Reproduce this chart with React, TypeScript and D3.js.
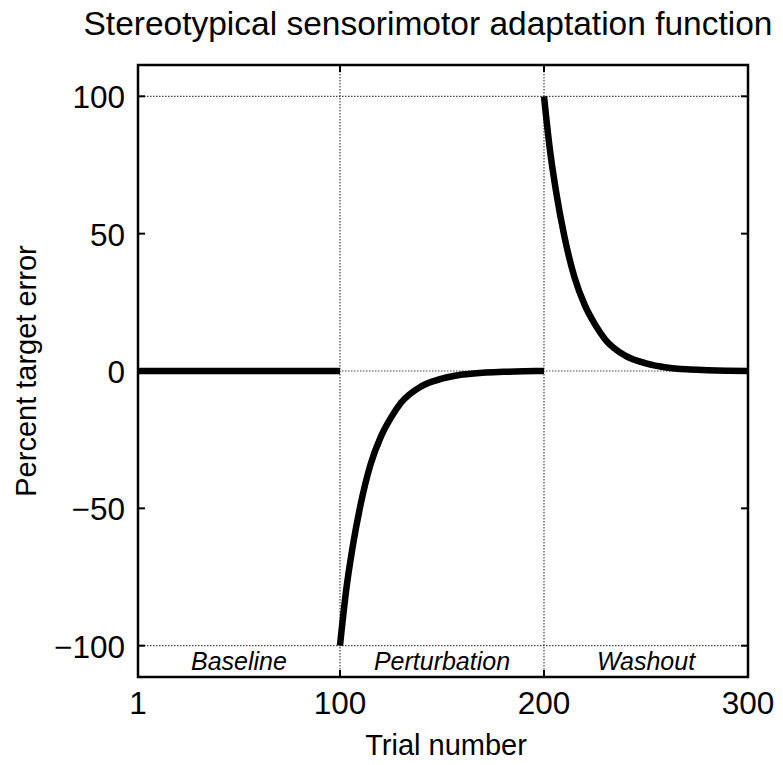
import React from "react";
import * as d3 from "d3";

const title = "Stereotypical sensorimotor adaptation function";
const xLabel = "Trial number";
const yLabel = "Percent target error";

const xTicks = [1, 100, 200, 300];
const yTicks = [100, 50, 0, -50, -100];
const gridX = [100, 200];
const gridY = [100, 0, -100];

const phaseNames = ["Baseline", "Perturbation", "Washout"];
const phaseStarts = [1, 100, 200];
const phaseEnds = [100, 200, 300];

const baselineTrials = [1, 100];
const baselineError = [0, 0];

const perturbationTrials = [100, 103, 106, 110, 115, 120, 125, 130, 140, 150, 160, 170, 180, 190, 200];
const perturbationError = [-100, -80, -65, -49, -34, -24, -17, -11.5, -5.5, -2.8, -1.3, -0.6, -0.3, -0.1, 0];

const washoutTrials = [200, 203, 206, 210, 215, 220, 225, 230, 240, 250, 260, 270, 280, 290, 300];
const washoutError = [100, 80, 65, 49, 34, 24, 17, 11.5, 5.5, 2.8, 1.3, 0.6, 0.3, 0.1, 0];

const W = 783;
const H = 765;
const L = 138, R = 748, T = 65, B = 677;
const FONT = "'Liberation Sans', Arial, Helvetica, sans-serif";

const fmt = (v: number) => (v < 0 ? "\u2212" + Math.abs(v) : String(v));

export default function App() {
  const x = d3.scaleLinear().domain([1, 300]).range([L, R]);
  const y = d3.scaleLinear().domain([-111.4, 111.4]).range([B, T]);
  const line = d3
    .line<[number, number]>()
    .x((d) => x(d[0]))
    .y((d) => y(d[1]))
    .curve(d3.curveMonotoneX);

  const segs: [number, number][][] = [
    baselineTrials.map((t, i) => [t, baselineError[i]]),
    perturbationTrials.map((t, i) => [t, perturbationError[i]]),
    washoutTrials.map((t, i) => [t, washoutError[i]]),
  ];

  const tickLen = 7;
  const grid = { stroke: "#444", strokeWidth: 1.2, strokeDasharray: "1.5,1.5" };

  return (
    <svg
      width={W}
      height={H}
      viewBox={`0 0 ${W} ${H}`}
      style={{ position: "absolute", left: 0, top: 0, background: "#fff" }}
      fontFamily={FONT}
    >
      <rect x={0} y={0} width={W} height={H} fill="#fff" />
      {/* grid */}
      {gridY.map((v) => (
        <line key={"gy" + v} x1={L} x2={R} y1={y(v)} y2={y(v)} {...grid} />
      ))}
      {gridX.map((v) => (
        <line key={"gx" + v} x1={x(v)} x2={x(v)} y1={T} y2={B} {...grid} />
      ))}
      {/* curves */}
      {segs.map((s, i) => (
        <path
          key={"s" + i}
          d={line(s) || ""}
          fill="none"
          stroke="#000"
          strokeWidth={6.5}
          strokeLinejoin="round"
          strokeLinecap="butt"
        />
      ))}
      {/* phase labels */}
      {phaseNames.map((n, i) => (
        <text
          key={n}
          x={x((phaseStarts[i] + phaseEnds[i]) / 2)}
          y={670}
          textAnchor="middle"
          fontStyle="italic"
          fontSize={25}
          fill="#000"
        >
          {n}
        </text>
      ))}
      {/* ticks */}
      {yTicks.map((v) => (
        <g key={"yt" + v}>
          <line x1={L} x2={L + tickLen} y1={y(v)} y2={y(v)} stroke="#000" strokeWidth={2} />
          <line x1={R} x2={R - tickLen} y1={y(v)} y2={y(v)} stroke="#000" strokeWidth={2} />
          <text x={125} y={y(v) + 12} textAnchor="end" fontSize={31.5} fill="#000">
            {fmt(v)}
          </text>
        </g>
      ))}
      {xTicks.map((v) => (
        <g key={"xt" + v}>
          <line x1={x(v)} x2={x(v)} y1={B} y2={B - tickLen} stroke="#000" strokeWidth={2} />
          <line x1={x(v)} x2={x(v)} y1={T} y2={T + tickLen} stroke="#000" strokeWidth={2} />
          <text x={x(v)} y={714} textAnchor="middle" fontSize={31.5} fill="#000">
            {v}
          </text>
        </g>
      ))}
      {/* box */}
      <rect x={L} y={T} width={R - L} height={B - T} fill="none" stroke="#000" strokeWidth={2.5} />
      {/* labels */}
      <text x={446} y={755} textAnchor="middle" fontSize={29} fill="#000">
        {xLabel}
      </text>
      <text transform={`translate(36,371) rotate(-90)`} textAnchor="middle" fontSize={29} fill="#000">
        {yLabel}
      </text>
      <text x={428} y={35} textAnchor="middle" fontSize={33.5} fill="#000">
        {title}
      </text>
    </svg>
  );
}
